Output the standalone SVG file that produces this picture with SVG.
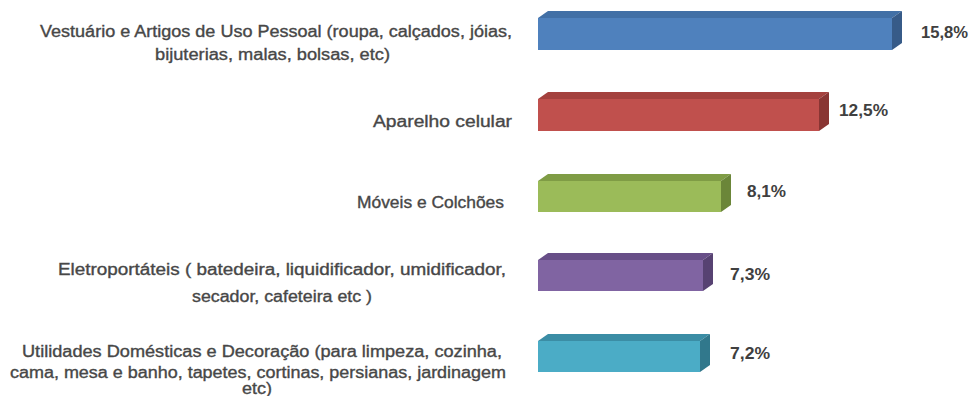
<svg xmlns="http://www.w3.org/2000/svg" width="972" height="396" viewBox="0 0 972 396">
<style>
.lbl{font-family:"Liberation Sans",Arial,sans-serif;font-size:16px;fill:#474747;stroke:#474747;stroke-width:0.35px;}
.val{font-family:"Liberation Sans",Arial,sans-serif;font-size:16px;font-weight:bold;fill:#404040;}
</style>
<rect width="972" height="396" fill="#ffffff"/>
<g id="cat1">
<text class="lbl" x="40" y="37" textLength="472" lengthAdjust="spacingAndGlyphs">Vestuário e Artigos de Uso Pessoal (roupa, calçados, jóias,</text>
<text class="lbl" x="155" y="60" textLength="235" lengthAdjust="spacingAndGlyphs">bijuterias, malas, bolsas, etc)</text>
<polygon points="538,18 548,11 902,11 892,18" fill="#4270a6"/>
<polygon points="892,18 902,11 902,43 892,50" fill="#375b88"/>
<rect x="538" y="18" width="354" height="32" fill="#4f81bd"/>
<text class="val" x="921" y="38" textLength="47" lengthAdjust="spacingAndGlyphs">15,8%</text>
</g>
<g id="cat2">
<text class="lbl" x="373" y="127" textLength="139" lengthAdjust="spacingAndGlyphs">Aparelho celular</text>
<polygon points="538,99 548,92 829,92 819,99" fill="#a4413e"/>
<polygon points="819,99 829,92 829,124 819,131" fill="#893533"/>
<rect x="538" y="99" width="281" height="32" fill="#c0504d"/>
<text class="val" x="839" y="116" textLength="49" lengthAdjust="spacingAndGlyphs">12,5%</text>
</g>
<g id="cat3">
<text class="lbl" x="357" y="208" textLength="147" lengthAdjust="spacingAndGlyphs">Móveis e Colchões</text>
<polygon points="538,181 548,174 731,174 721,181" fill="#7f9c45"/>
<polygon points="721,181 731,174 731,205 721,212" fill="#6b8639"/>
<rect x="538" y="181" width="183" height="31" fill="#9bbb59"/>
<text class="val" x="747" y="197" textLength="39" lengthAdjust="spacingAndGlyphs">8,1%</text>
</g>
<g id="cat4">
<text class="lbl" x="58" y="275" textLength="448" lengthAdjust="spacingAndGlyphs">Eletroportáteis ( batedeira, liquidificador, umidificador,</text>
<text class="lbl" x="192" y="302" textLength="180" lengthAdjust="spacingAndGlyphs">secador, cafeteira etc )</text>
<polygon points="538,260 548,253 713,253 703,260" fill="#684f88"/>
<polygon points="703,260 713,253 713,284 703,291" fill="#574272"/>
<rect x="538" y="260" width="165" height="31" fill="#8064a2"/>
<text class="val" x="730" y="280" textLength="40" lengthAdjust="spacingAndGlyphs">7,3%</text>
</g>
<g id="cat5">
<text class="lbl" x="22" y="357" textLength="480" lengthAdjust="spacingAndGlyphs">Utilidades Domésticas e Decoração (para limpeza, cozinha,</text>
<text class="lbl" x="10" y="378" textLength="496" lengthAdjust="spacingAndGlyphs">cama, mesa e banho, tapetes, cortinas, persianas, jardinagem</text>
<text class="lbl" x="242" y="394" textLength="30" lengthAdjust="spacingAndGlyphs">etc)</text>
<polygon points="538,341 548,334 710,334 700,341" fill="#3b8da5"/>
<polygon points="700,341 710,334 710,365 700,372" fill="#31788c"/>
<rect x="538" y="341" width="162" height="31" fill="#4bacc6"/>
<text class="val" x="730" y="359" textLength="40" lengthAdjust="spacingAndGlyphs">7,2%</text>
</g>
<g id="connectors"></g>
</svg>
